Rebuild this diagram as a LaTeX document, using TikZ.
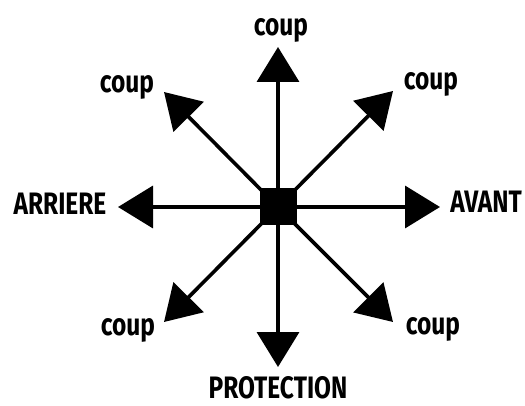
\documentclass[tikz,border=0pt]{standalone}
\usepackage{fontspec}
\setmainfont{Fira Sans}[FakeStretch=0.79]
\usetikzlibrary{arrows.meta}
\tikzset{
  arr/.style={line width=3.6pt,-{Triangle[length=35pt,width=42pt]}},
  lbl/.style={font=\fontsize{31}{31}\selectfont\bfseries,inner sep=0pt},
}

\begin{document}
\begin{tikzpicture}[x=1pt,y=-1pt]
        \useasboundingbox (0,0) rectangle (525,406);
        \node[fill=black,minimum size=37pt,inner sep=0pt] (c) at (278,207) {};
        % arrow tips
        \coordinate (up) at (278,47);
        \coordinate (down) at (278,367);
        \coordinate (back) at (118,207);
        \coordinate (front) at (440,207);
        \coordinate (ul) at (164,92);
        \coordinate (ur) at (393,91);
        \coordinate (dl) at (164,322);
        \coordinate (dr) at (393,322);
        \foreach \t in {up,down,back,front,ul,ur,dl,dr}
          \draw[arr] (c.center) -- (\t);
        % labels
        \node[lbl] (lup) at (281,30) {coup};
        \node[lbl] (lul) at (127,87) {coup};
        \node[lbl] (lur) at (431,84) {coup};
        \node[lbl] (ldl) at (128,330) {coup};
        \node[lbl] (ldr) at (433,329) {coup};
        \node[lbl] (lback) at (60,204) {ARRIERE};
        \node[lbl] (lfront) at (486,202) {AVANT};
        \node[lbl] (ldown) at (278,388) {PROTECTION};
      \end{tikzpicture}
\end{document}
